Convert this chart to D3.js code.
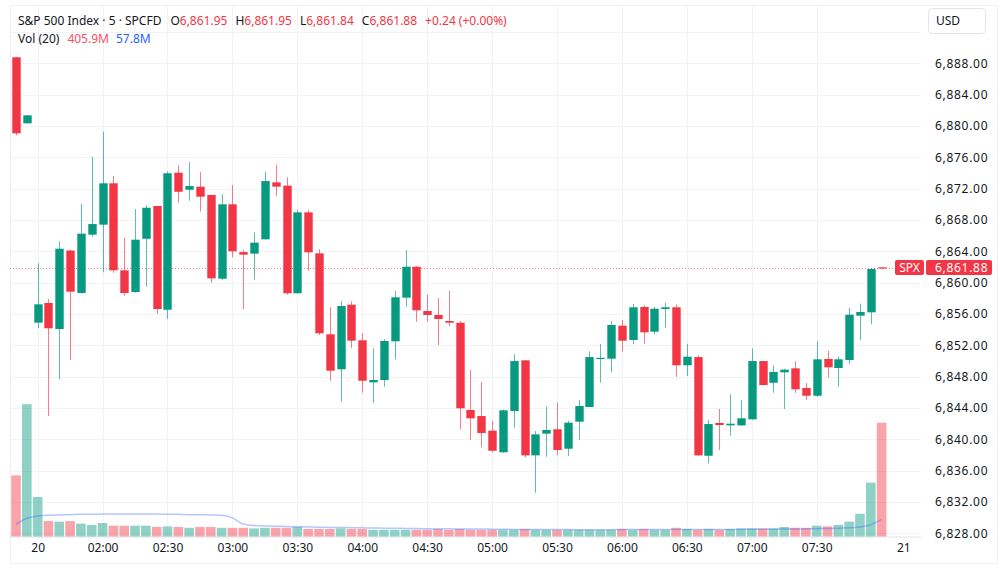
<!DOCTYPE html>
<html>
<head>
<meta charset="utf-8">
<script src="https://cdn.jsdelivr.net/npm/d3@7"></script>
<style>
html,body{margin:0;padding:0;background:#fff;}
svg{display:block;font-family:"Noto Sans","DejaVu Sans",sans-serif;}
</style>
</head>
<body>
<svg id="chart" width="1000" height="570"></svg>
<script>
// ---- data ----
const opens  = [6888.77,6880.34,6854.89,6857.40,6854.08,6864.10,6858.68,6866.12,6867.40,6872.68,
                6861.57,6858.80,6865.60,6869.78,6856.54,6874.03,6871.86,6872.25,6871.19,6860.50,
                6870.00,6863.90,6863.70,6865.53,6872.80,6872.38,6858.64,6868.97,6863.74,6853.40,
                6848.94,6857.18,6852.64,6847.27,6847.57,6852.51,6858.08,6862.03,6856.38,6855.87,
                6855.10,6854.88,6843.74,6842.97,6841.10,6838.34,6843.61,6850.08,6837.95,6840.72,
                6841.28,6838.80,6842.25,6844.12,6850.25,6850.29,6854.50,6852.68,6856.89,6853.74,
                6856.63,6856.85,6849.45,6850.50,6837.90,6842.08,6841.78,6841.78,6842.55,6849.99,
                6847.22,6848.55,6849.06,6846.55,6845.56,6850.25,6849.10,6850.12,6855.78,6856.21,
                6861.95];
const highs  = [6888.80,6881.40,6862.47,6857.90,6865.30,6864.20,6870.04,6876.08,6879.27,6873.61,
                6865.74,6869.40,6869.90,6869.80,6874.20,6874.98,6875.40,6874.12,6871.20,6871.30,
                6872.46,6864.16,6866.40,6874.16,6875.05,6873.45,6869.27,6869.27,6864.29,6856.85,
                6857.65,6857.60,6853.57,6851.60,6852.80,6858.93,6864.16,6862.10,6858.46,6858.04,
                6858.97,6855.10,6848.85,6847.30,6842.37,6843.80,6850.85,6850.10,6841.06,6844.16,
                6844.72,6842.37,6845.00,6851.23,6852.16,6855.10,6855.23,6857.27,6857.14,6856.90,
                6857.44,6857.23,6852.20,6850.72,6842.46,6843.87,6845.74,6845.00,6851.60,6850.00,
                6849.45,6849.01,6849.99,6847.18,6852.55,6851.31,6850.59,6856.76,6857.31,6861.83,
                6861.95];
const lows   = [6878.80,6880.30,6854.17,6842.97,6847.66,6850.12,6858.60,6865.86,6861.32,6861.27,
                6858.33,6858.70,6859.50,6855.99,6855.36,6870.20,6870.46,6869.10,6860.00,6860.30,
                6863.23,6856.60,6860.40,6865.50,6871.06,6858.46,6858.60,6861.52,6853.31,6847.48,
                6844.80,6851.65,6845.95,6844.63,6846.71,6850.20,6856.93,6855.00,6855.00,6852.04,
                6854.46,6841.30,6839.91,6838.97,6838.34,6838.30,6841.48,6837.70,6833.18,6837.78,
                6837.95,6837.87,6839.91,6844.10,6847.22,6848.55,6851.23,6852.16,6852.16,6853.40,
                6854.24,6847.99,6848.06,6837.90,6836.93,6838.63,6840.46,6841.70,6842.50,6846.84,
                6845.95,6843.87,6845.95,6845.05,6845.44,6847.86,6846.71,6849.61,6852.68,6854.68,
                6861.84];
const closes = [6879.06,6881.36,6857.23,6854.17,6864.33,6858.84,6866.25,6867.48,6872.68,6861.57,
                6858.68,6865.48,6869.56,6856.63,6873.96,6871.60,6872.33,6870.97,6860.55,6870.00,
                6864.00,6863.57,6865.10,6872.97,6872.25,6858.64,6868.97,6863.87,6853.53,6848.76,
                6857.01,6852.59,6847.48,6847.57,6852.55,6858.13,6862.03,6856.47,6855.87,6855.36,
                6854.88,6843.96,6842.68,6840.80,6838.54,6843.70,6849.99,6837.95,6840.63,6841.19,
                6838.63,6842.12,6844.25,6850.50,6850.40,6854.60,6852.59,6856.85,6853.66,6856.67,
                6856.85,6849.45,6850.54,6837.95,6841.95,6841.82,6841.99,6842.68,6849.99,6846.93,
                6848.59,6848.89,6846.38,6845.56,6850.21,6849.19,6850.21,6855.90,6856.25,6861.74,
                6861.88];
// volume, millions
const volumes = [218,472,141,55,53,55,46,41,48,38.5,
                 38.5,38.5,38.5,34,36,34,31,34,34,31,
                 31,31,29,31,31,31,34,27,27,27,
                 29,27,27,24,24,24,24,24,24,27,
                 24,27,24,24,24,24,24,27,24,24,
                 24,24,24,24,24,24,27,24,27,24,
                 24,31,27,24,27,24,27,29,29,29,
                 29,34,31,31,38.5,36,41,53,81,192,
                 405.9];
// Vol MA(20) for the first bars (window reaches before visible data)
const volMALead = [43,65,73,76,77,78,79,79,80,80,80,80,80,80,79,79,78,78,77];
const timeTickIdx    = [2,8,14,20,26,32,38,44,50,56,62,68,74,82];
const timeTickLabels = ["20","02:00","02:30","03:00","03:30","04:00","04:30","05:00","05:30","06:00","06:30","07:00","07:30","21"];
const priceTicks = [6828,6832,6836,6840,6844,6848,6852,6856,6860,6864,6868,6872,6876,6880,6884,6888];
const lastPrice = 6861.88;
const header = {name:"S&P 500 Index · 5 · SPCFD", o:"6,861.95", h:"6,861.95", l:"6,861.84", c:"6,861.88", chg:"+0.24 (+0.00%)", vol:"405.9M", volMA:"57.8M"};

// ---- styles ----
const UP="#089981", DOWN="#F23645";
const UPV="rgba(8,153,129,0.45)", DOWNV="rgba(242,54,69,0.45)";
const TXT="#131722", GRID="#F2F3F6";

const svg = d3.select("#chart");
const n = opens.length;
const data = d3.range(n).map(i=>({i,o:opens[i],h:highs[i],l:lows[i],c:closes[i],v:volumes[i]}));
data.forEach((d,i)=>{
  if(i<volMALead.length) d.ma=volMALead[i];
  else d.ma=d3.mean(volumes.slice(i-19,i+1));
});

const paneL=10, paneR=921, paneT=5, paneB=536.5;
const x = d3.scaleLinear().domain([0,80]).range([16,16+80*10.82]);
const y = d3.scaleLinear().domain([6828,6888]).range([533.3,63.3]);
const yv = d3.scaleLinear().domain([0,405.9]).range([paneB,422.7]);

// outer border
svg.append("rect").attr("x",10.5).attr("y",5.5).attr("width",987).attr("height",558)
  .attr("fill","none").attr("stroke","#EEF0F4");

// grid
const gridG = svg.append("g");
const allGridPrices = d3.range(6828,6893,4);
gridG.selectAll("line.h").data(allGridPrices).enter().append("line")
  .attr("x1",paneL).attr("x2",paneR)
  .attr("y1",d=>Math.round(y(d))+0.5).attr("y2",d=>Math.round(y(d))+0.5)
  .attr("stroke",GRID);
gridG.selectAll("line.v").data(timeTickIdx.slice(0,-1)).enter().append("line")
  .attr("y1",paneT).attr("y2",paneB)
  .attr("x1",d=>Math.round(x(d))+0.5).attr("x2",d=>Math.round(x(d))+0.5)
  .attr("stroke",GRID);
// bottom separator
svg.append("line").attr("x1",paneL).attr("x2",paneR).attr("y1",paneB+0.5).attr("y2",paneB+0.5).attr("stroke","#E0E3EB");

// volume
const bw = 10.82;
svg.append("g").selectAll("rect").data(data).enter().append("rect")
  .attr("x",d=>x(d.i)-bw/2+0.6).attr("width",bw-1.2)
  .attr("y",d=>yv(d.v)).attr("height",d=>paneB-yv(d.v))
  .attr("fill",d=>d.c>=d.o?UPV:DOWNV);
// volume MA
svg.append("path").datum(data)
  .attr("d",d3.line().x(d=>x(d.i)).y(d=>yv(d.ma)).curve(d3.curveMonotoneX))
  .attr("fill","none").attr("stroke","rgba(41,98,255,0.35)").attr("stroke-width",1.5);

// last price dotted line
svg.append("line").attr("x1",paneL).attr("x2",895)
  .attr("y1",Math.round(y(lastPrice))+0.5).attr("y2",Math.round(y(lastPrice))+0.5)
  .attr("stroke",DOWN).attr("stroke-opacity",0.7).attr("stroke-dasharray","1,2");

// candles
const cg = svg.append("g").selectAll("g").data(data).enter().append("g");
cg.append("line")
  .attr("x1",d=>Math.round(x(d.i))+0.5).attr("x2",d=>Math.round(x(d.i))+0.5)
  .attr("y1",d=>y(d.h)).attr("y2",d=>y(d.l))
  .attr("stroke",d=>d.c>=d.o?UP:DOWN).attr("stroke-opacity",0.65).attr("stroke-width",1);
const cw = 8.4;
cg.append("rect")
  .attr("x",d=>Math.round(x(d.i))+0.5-cw/2).attr("width",cw)
  .attr("y",d=>y(Math.max(d.o,d.c)))
  .attr("height",d=>Math.max(1.2,Math.abs(y(d.o)-y(d.c))))
  .attr("fill",d=>d.c>=d.o?UP:DOWN);

// price axis
const yAxis = d3.axisRight(y).tickValues(priceTicks).tickSize(0).tickPadding(0)
  .tickFormat(d=>d3.format(",.2f")(d));
const ya = svg.append("g").attr("transform","translate(935,0)").call(yAxis);
ya.select(".domain").remove();
ya.selectAll("text").attr("fill",TXT).style("font-size","12px").style("letter-spacing","0.7px")
  .style("font-family","'Noto Sans',sans-serif");

// time axis
const xAxis = d3.axisBottom(x).tickValues(timeTickIdx).tickSize(0).tickPadding(0)
  .tickFormat((d,i)=>timeTickLabels[i]);
const xa = svg.append("g").attr("transform","translate(0,543)").call(xAxis);
xa.select(".domain").remove();
xa.selectAll("text").attr("fill",TXT).style("font-size","12px").style("font-family","'Noto Sans',sans-serif");

// last price tags
const ly = y(lastPrice);
svg.append("rect").attr("x",895).attr("y",ly-8).attr("width",29).attr("height",15).attr("rx",2).attr("fill",DOWN);
svg.append("text").attr("x",909.5).attr("y",ly+3.8).attr("text-anchor","middle").attr("fill","#fff")
  .style("font-size","12px").text("SPX");
svg.append("rect").attr("x",926).attr("y",ly-8).attr("width",66).attr("height",15).attr("rx",2).attr("fill",DOWN);
svg.append("text").attr("x",935).attr("y",ly+3.8).attr("fill","#fff").style("letter-spacing","0.7px")
  .style("font-size","12px").text(d3.format(",.2f")(lastPrice));

// USD box
svg.append("rect").attr("x",928.5).attr("y",8.5).attr("width",57).attr("height",25).attr("rx",4)
  .attr("fill","#fff").attr("stroke","#E0E3EB");
svg.append("text").attr("x",936).attr("y",25).attr("fill",TXT).style("font-size","12px").text("USD");

// header legend
const h1 = svg.append("text").attr("x",18).attr("y",24.5).style("font-size","12px").attr("fill",TXT);
h1.append("tspan").text(header.name);
const parts=[["O",header.o],["H",header.h],["L",header.l],["C",header.c]];
parts.forEach((p,k)=>{
  h1.append("tspan").attr("dx",k===0?9:8).attr("fill",TXT).text(p[0]);
  h1.append("tspan").attr("fill",DOWN).text(p[1]);
});
h1.append("tspan").attr("dx",8).attr("fill",DOWN).text(header.chg);
const h2 = svg.append("text").attr("x",18).attr("y",42.5).style("font-size","12px").attr("fill",TXT);
h2.append("tspan").text("Vol (20)");
h2.append("tspan").attr("dx",8).attr("fill","#F7525F").text(header.vol);
h2.append("tspan").attr("dx",7).attr("fill","#2962FF").text(header.volMA);
</script>
</body>
</html>
